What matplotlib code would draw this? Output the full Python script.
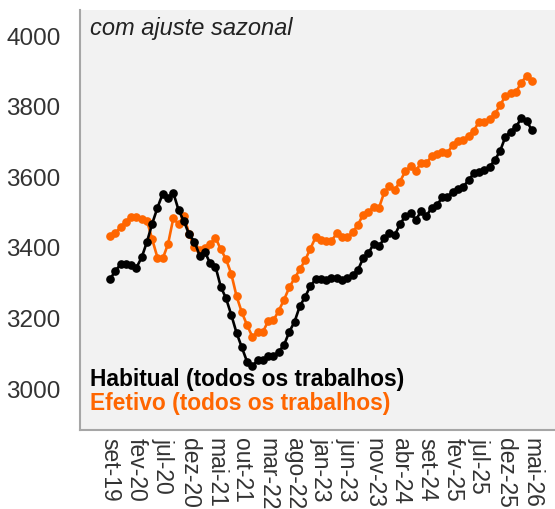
import matplotlib
matplotlib.use("Agg")
import matplotlib.pyplot as plt

plt.rcParams['font.family'] = ['Liberation Sans', 'DejaVu Sans']

months = ["set-19", "out-19", "nov-19", "dez-19", "jan-20", "fev-20", "mar-20", "abr-20", "mai-20", "jun-20",
          "jul-20", "ago-20", "set-20", "out-20", "nov-20", "dez-20", "jan-21", "fev-21", "mar-21", "abr-21",
          "mai-21", "jun-21", "jul-21", "ago-21", "set-21", "out-21", "nov-21", "dez-21", "jan-22", "fev-22",
          "mar-22", "abr-22", "mai-22", "jun-22", "jul-22", "ago-22", "set-22", "out-22", "nov-22", "dez-22",
          "jan-23", "fev-23", "mar-23", "abr-23", "mai-23", "jun-23", "jul-23", "ago-23", "set-23", "out-23",
          "nov-23", "dez-23", "jan-24", "fev-24", "mar-24", "abr-24", "mai-24", "jun-24", "jul-24", "ago-24",
          "set-24", "out-24", "nov-24", "dez-24", "jan-25", "fev-25", "mar-25", "abr-25", "mai-25", "jun-25",
          "jul-25", "ago-25", "set-25", "out-25", "nov-25", "dez-25", "jan-26", "fev-26", "mar-26", "abr-26",
          "mai-26"]

habitual = [3311, 3335, 3353, 3353, 3351, 3344, 3373, 3417, 3469, 3514,
            3554, 3542, 3556, 3507, 3476, 3438, 3418, 3378, 3388, 3356,
            3347, 3290, 3257, 3210, 3159, 3118, 3077, 3065, 3082, 3082,
            3093, 3093, 3106, 3125, 3162, 3191, 3235, 3261, 3292, 3311,
            3311, 3309, 3314, 3316, 3309, 3314, 3323, 3337, 3370, 3385,
            3411, 3404, 3427, 3441, 3436, 3467, 3490, 3499, 3479, 3504,
            3490, 3514, 3521, 3543, 3545, 3559, 3568, 3573, 3592, 3611,
            3615, 3620, 3630, 3649, 3675, 3715, 3729, 3743, 3767, 3760,
            3734]

efetivo = [3433, 3443, 3458, 3474, 3488, 3488, 3482, 3477, 3424, 3372,
           3370, 3411, 3484, 3467, 3491, 3440, 3402, 3394, 3400, 3411,
           3429, 3396, 3368, 3326, 3263, 3217, 3181, 3148, 3162, 3162,
           3193, 3195, 3222, 3253, 3288, 3314, 3339, 3365, 3398, 3430,
           3422, 3419, 3420, 3441, 3430, 3430, 3444, 3465, 3494, 3502,
           3516, 3513, 3557, 3574, 3564, 3588, 3617, 3631, 3619, 3640,
           3641, 3659, 3665, 3672, 3670, 3691, 3703, 3705, 3718, 3732,
           3758, 3756, 3764, 3779, 3805, 3830, 3838, 3842, 3868, 3887,
           3873]

yticks = [3000, 3200, 3400, 3600, 3800, 4000]
label_step = 5

W, H = 555, 509
fig = plt.figure(figsize=(W / 100, H / 100), dpi=100)
fig.patch.set_facecolor('white')
ax = fig.add_axes([80 / W, (H - 430) / H, 475 / W, 420 / H])
ax.set_facecolor('#f2f2f2')

x = list(range(len(months)))
orange = '#ff6600'
ax.plot(x, efetivo, color=orange, lw=1.9, marker='o', ms=5.2, zorder=3)
ax.plot(x, habitual, color='black', lw=1.9, marker='o', ms=5.2, zorder=4)

ax.set_xlim(-5.7, 84.4)
ax.set_ylim(2884, 4074)

ax.set_yticks(yticks)
ax.set_yticklabels([str(v) for v in yticks])
ticks = x[::label_step]
ax.set_xticks(ticks)
ax.set_xticklabels([months[i] for i in ticks], rotation=-90, ha='center', va='top')

ax.tick_params(axis='y', length=0, pad=14, labelsize=17.5, labelcolor='#333333')
ax.tick_params(axis='x', length=0, pad=6, labelsize=16.5, labelcolor='#333333')

for s in ['top', 'right']:
    ax.spines[s].set_visible(False)
for s in ['left', 'bottom']:
    ax.spines[s].set_color('#a6a6a6')
    ax.spines[s].set_linewidth(1.5)

ax.text(0.021, 0.955, 'com ajuste sazonal', transform=ax.transAxes, fontsize=17,
        style='italic', color='#222222', ha='left', va='center')
ax.text(0.021, 0.121, 'Habitual (todos os trabalhos)', transform=ax.transAxes, fontsize=16.4,
        fontweight='bold', color='black', ha='left', va='center')
ax.text(0.021, 0.064, 'Efetivo (todos os trabalhos)', transform=ax.transAxes, fontsize=16.4,
        fontweight='bold', color=orange, ha='left', va='center')

fig.savefig('out.png', dpi=100)
